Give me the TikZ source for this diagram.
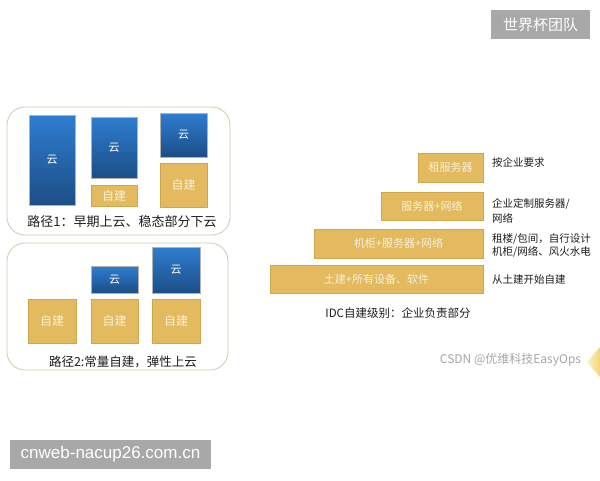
\documentclass[tikz,border=0pt]{standalone}
\usepackage{fontspec}
\setmainfont{Noto Sans CJK SC}
\newfontfamily\latinsans{Liberation Sans}
\usetikzlibrary{positioning}
\definecolor{gold}{HTML}{E3BA5E}
\definecolor{goldline}{HTML}{CFA64E}
\definecolor{goldtext}{HTML}{F7F0DA}
\definecolor{bluetop}{HTML}{2E7DD0}
\definecolor{bluebot}{HTML}{1C4E86}
\definecolor{panelline}{HTML}{B9D7AC}
\definecolor{wmgray}{HTML}{A8A8A8}
\definecolor{labelc}{HTML}{1E1E1E}
\definecolor{triyellow}{HTML}{F8D470}
\tikzset{
  bluebox/.style={draw=gray!60, line width=0.6pt, top color=bluetop, bottom color=bluebot, text=white, font=\fontsize{11}{12}\selectfont, inner sep=0pt},
  goldbox/.style={draw=goldline, line width=0.6pt, fill=gold, text=goldtext, font=\fontsize{12}{13}\selectfont, inner sep=0pt},
  idcbox/.style={draw=goldline, line width=0.6pt, fill=gold, text=goldtext, font=\fontsize{11}{13}\selectfont, inner sep=0pt},
  panel/.style={draw=panelline, line width=0.8pt, rounded corners=18pt},
  lbl/.style={text=labelc, inner sep=0pt},
  wm/.style={fill=wmgray, text=white, inner sep=0pt}
}
\begin{document}
\begin{tikzpicture}[x=1pt,y=-1pt]
\useasboundingbox (0,0) rectangle (600,480);
\fill[white] (0,0) rectangle (600,480);
% panels
\draw[panel] (7,107) rectangle (230,235);
\draw[panel] (7,243) rectangle (228,370);
% panel 1
\node[bluebox, minimum width=46, minimum height=90] (c1) at (52,160) {云};
\node[bluebox, minimum width=46, minimum height=61] (c2) at (114,147.5) {云};
\node[goldbox, minimum width=46, minimum height=21] (s2) at (114,195.5) {自建};
\node[bluebox, minimum width=47, minimum height=44] (c3) at (183.5,135) {云};
\node[goldbox, minimum width=47, minimum height=44] (s3) at (183.5,185) {自建};
\node[lbl, font=\fontsize{13}{15}\selectfont] (p1) at (122,222) {路径1：早期上云、稳态部分下云};
% panel 2
\node[goldbox, minimum width=48, minimum height=44] (sa) at (52,321) {自建};
\node[goldbox, minimum width=47, minimum height=44] (sb) at (114.5,321) {自建};
\node[goldbox, minimum width=48, minimum height=44] (sc) at (176,321) {自建};
\node[bluebox, minimum width=47, minimum height=27] (cb) at (114.5,279.5) {云};
\node[bluebox, minimum width=48, minimum height=46] (cc) at (176,270) {云};
\node[lbl, font=\fontsize{12.5}{15}\selectfont] (p2) at (123,362) {路径2:常量自建，弹性上云};
% IDC levels
\node[idcbox, minimum width=65, minimum height=29] (r1) at (450.5,167.5) {租服务器};
\node[idcbox, minimum width=102, minimum height=28] (r2) at (432,206) {服务器+网络};
\node[idcbox, minimum width=169, minimum height=29] (r3) at (398.5,243.5) {机柜+服务器+网络};
\node[idcbox, minimum width=213, minimum height=28] (r4) at (376.5,279) {土建+所有设备、软件};
\node[lbl, anchor=west, font=\fontsize{10.5}{15}\selectfont] (t1) at (492,162) {按企业要求};
\node[lbl, anchor=west, align=left, font=\fontsize{10.5}{15}\selectfont] (t2) at (492,210.5) {企业定制服务器/\\网络};
\node[lbl, anchor=west, align=left, font=\fontsize{10.5}{13.5}\selectfont] (t3) at (492,245.5) {租楼/包间，自行设计\\机柜/网络、风火水电};
\node[lbl, anchor=west, font=\fontsize{10.5}{15}\selectfont] (t4) at (492,280) {从土建开始自建};
\node[lbl, font=\fontsize{11.5}{14}\selectfont] (idc) at (398,313) {IDC自建级别：企业负责部分};
% watermarks
\node[wm, minimum width=99, minimum height=29, font=\fontsize{15}{17}\selectfont] (w1) at (540.5,24.5) {世界杯团队};
\node[wm, minimum width=201, minimum height=29, font=\latinsans\fontsize{17}{19}\selectfont] (w2) at (110.5,454.5) {cnweb-nacup26.com.cn};
\shade[left color=triyellow!35, right color=triyellow] (600,347) -- (587,362) -- (600,377) -- cycle;
\node[lbl, text=gray!70, font=\fontsize{12}{14}\selectfont] (csdn) at (510.5,360) {CSDN @优维科技EasyOps};
\end{tikzpicture}
\end{document}
